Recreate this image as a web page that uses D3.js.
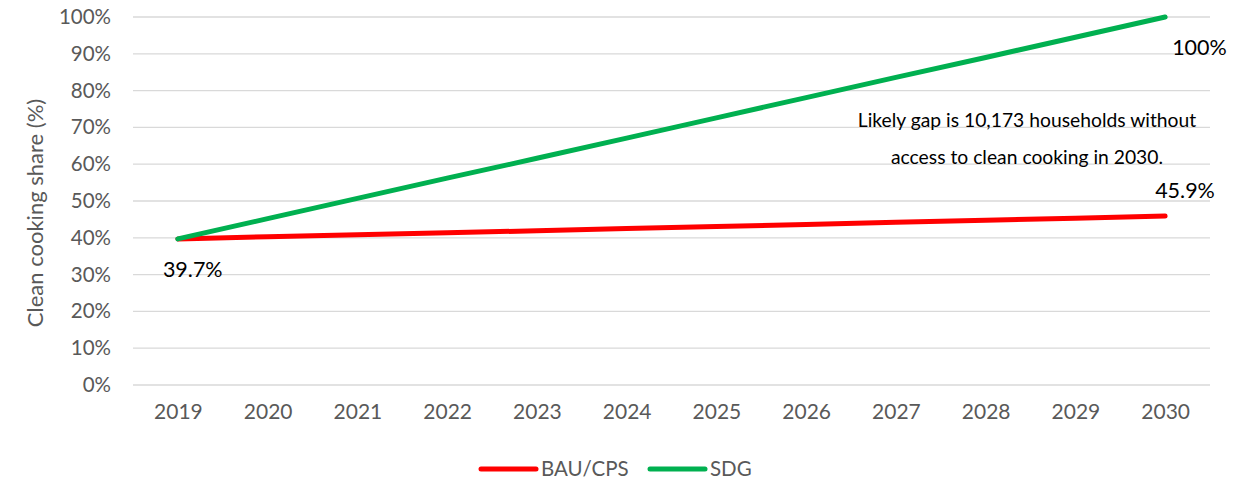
<!DOCTYPE html>
<html>
<head>
<meta charset="utf-8">
<script src="https://cdn.jsdelivr.net/npm/d3@7"></script>
<style>
  body { margin: 0; background: #fff; }
  text { font-family: Lato, "Open Sans", sans-serif; }
</style>
</head>
<body>
<svg id="chart" width="1234" height="483"></svg>
<script>
const years = ['2019', '2020', '2021', '2022', '2023', '2024', '2025', '2026', '2027', '2028', '2029', '2030'];
const bauValues = [39.7, 40.3, 40.8, 41.4, 41.9, 42.5, 43.1, 43.6, 44.2, 44.8, 45.3, 45.9];
const sdgValues = [39.7, 45.2, 50.7, 56.2, 61.6, 67.1, 72.6, 78.1, 83.6, 89.0, 94.5, 100];
const yTicks = [0, 10, 20, 30, 40, 50, 60, 70, 80, 90, 100];
const seriesNames = ['BAU/CPS', 'SDG'];
const seriesColors = ['#ff0000', '#00b050'];
const noteLines = ['Likely gap is 10,173 households without', 'access to clean cooking in 2030.'];

const svg = d3.select('#chart');
const plotLeft = 133, plotRight = 1210, plotTop = 17, plotBottom = 385;

const x = d3.scalePoint()
  .domain(years)
  .range([plotLeft, plotRight])
  .padding(0.5)
  ;

const y = d3.scaleLinear()
  .domain([0, 100])
  .range([plotBottom, plotTop])
  ;

// gridlines
svg.append('g')
  .selectAll('line')
  .data(yTicks)
  .join('line')
  .attr('x1', plotLeft)
  .attr('x2', plotRight)
  .attr('y1', d => y(d))
  .attr('y2', d => y(d))
  .attr('stroke', '#d9d9d9')
  .attr('stroke-width', 1.3)
  ;

// y axis labels
const yAxis = svg.append('g')
  .attr('transform', `translate(${plotLeft - 22},0)`)
  .call(d3.axisLeft(y).tickValues(yTicks).tickFormat(d => d + '%').tickSize(0).tickPadding(0))
  ;
yAxis.select('.domain').remove();
yAxis.selectAll('text')
  .attr('fill', '#595959')
  .style('font-size', '20.5px')
  .style('font-family', 'Lato, sans-serif')
  ;

// x axis labels
const xAxis = svg.append('g')
  .attr('transform', `translate(0,${plotBottom + 19})`)
  .call(d3.axisBottom(x).tickSize(0).tickPadding(0))
  ;
xAxis.select('.domain').remove();
xAxis.selectAll('text')
  .attr('fill', '#595959')
  .style('font-size', '21px')
  .style('font-family', 'Lato, sans-serif')
  ;

svg.append('text')
  .attr('transform', `translate(43,${213}) rotate(-90)`)
  .attr('text-anchor', 'middle')
  .attr('fill', '#595959')
  .style('font-size', '22px')
  .text('Clean cooking share (%)')
  ;

const line = d3.line()
  .x((d, i) => x(years[i]))
  .y(d => y(d))
  ;

[bauValues, sdgValues].forEach((vals, k) => {
  svg.append('path')
    .datum(vals)
    .attr('d', line)
    .attr('fill', 'none')
    .attr('stroke', seriesColors[k])
    .attr('stroke-width', 5)
    .attr('stroke-linecap', 'round')
    ;
});

// data labels
const labels = [
  { text: bauValues[0].toFixed(1) + '%', xi: 0, v: bauValues[0], dx: -15, dy: 38 },
  { text: sdgValues[11] + '%', xi: 11, v: sdgValues[11], dx: 7, dy: 38 },
  { text: bauValues[11].toFixed(1) + '%', xi: 11, v: bauValues[11], dx: -10, dy: -18 }
];
svg.append('g')
  .selectAll('text')
  .data(labels)
  .join('text')
  .attr('x', d => x(years[d.xi]) + d.dx)
  .attr('y', d => y(d.v) + d.dy)
  .attr('fill', '#000')
  .style('font-size', '21.5px')
  .text(d => d.text)
  ;

svg.append('g')
  .selectAll('text')
  .data(noteLines)
  .join('text')
  .attr('x', 1027)
  .attr('y', (d, i) => 127 + i * 37)
  .attr('text-anchor', 'middle')
  .attr('fill', '#000')
  .style('font-size', '19.3px')
  .text(d => d)
  ;

// legend
const legendX = [481, 650];
const legend = svg.append('g');
seriesNames.forEach((name, k) => {
  legend.append('line')
    .attr('x1', legendX[k])
    .attr('x2', legendX[k] + 55)
    .attr('y1', 469)
    .attr('y2', 469)
    .attr('stroke', seriesColors[k])
    .attr('stroke-width', 5)
    .attr('stroke-linecap', 'round')
    ;
  legend.append('text')
    .attr('x', legendX[k] + 60)
    .attr('y', 476)
    .attr('fill', '#595959')
    .style('font-size', '20.5px')
    .text(name)
    ;
});
</script>
</body>
</html>
